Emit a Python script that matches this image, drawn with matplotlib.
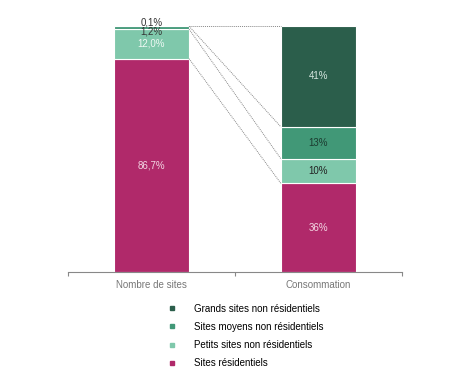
import matplotlib.pyplot as plt
from matplotlib.lines import Line2D
import numpy as np

plt.rcParams['font.family'] = ['Liberation Sans', 'DejaVu Sans']

# data
categories = ['Nombre de sites', 'Consommation']
segments = ['Sites résidentiels', 'Petits sites non résidentiels',
            'Sites moyens non résidentiels', 'Grands sites non résidentiels']
nb_sites = [86.7, 12.0, 1.2, 0.1]
conso = [36, 10, 13, 41]
nb_labels = ['86,7%', '12,0%', '1,2%', '0,1%']
conso_labels = ['36%', '10%', '13%', '41%']
colors = ['#b0296a', '#7fc8ab', '#419877', '#2b5e4b']
lbl_colors_left = ['#f3d6e3', '#eef8f3', '#333333', '#333333']
lbl_colors_right = ['#f3d6e3', '#222222', '#1c3b30', '#d6e6df']

fig = plt.figure(figsize=(4.67, 3.77), dpi=100)
ax = fig.add_axes([0.1456, 0.2785, 0.7152, 0.6525])

width = 0.45
bottom_l = np.concatenate([[0], np.cumsum(nb_sites)[:-1]])
bottom_r = np.concatenate([[0], np.cumsum(conso)[:-1]])
for i in range(4):
    ax.bar(0, nb_sites[i], width, bottom=bottom_l[i], color=colors[i],
           edgecolor='white', linewidth=0.8)
    ax.bar(1, conso[i], width, bottom=bottom_r[i], color=colors[i],
           edgecolor='white', linewidth=0.8)

# labels
for i in range(2):
    ax.text(0, bottom_l[i] + nb_sites[i] / 2, nb_labels[i], ha='center', va='center',
            fontsize=7, color=lbl_colors_left[i])
ax.text(0, 97.8, nb_labels[2], ha='center', va='center', fontsize=7, color='#333333')
ax.text(0, 101.6, nb_labels[3], ha='center', va='center', fontsize=7, color='#333333')
for i in range(4):
    ax.text(1, bottom_r[i] + conso[i] / 2, conso_labels[i], ha='center', va='center',
            fontsize=7, color=lbl_colors_right[i])

# dotted connectors
top_l = np.cumsum(nb_sites)
top_r = np.cumsum(conso)
for yl, yr in zip(top_l, top_r):
    ax.plot([width / 2, 1 - width / 2], [yl, yr], color='#888888', lw=0.7,
            linestyle=(0, (1, 1)))

ax.set_xlim(-0.5, 1.5)
ax.set_ylim(0, 100)
for s in ['top', 'right', 'left']:
    ax.spines[s].set_visible(False)
ax.spines['bottom'].set_color('#888888')
ax.spines['bottom'].set_linewidth(0.8)
ax.set_yticks([])
ax.set_xticks([0, 1])
ax.set_xticklabels(categories, fontsize=7, color='#777777')
ax.tick_params(axis='x', length=0, pad=6)
ax.set_xticks([-0.5, 0.5, 1.5], minor=True)
ax.tick_params(axis='x', which='minor', length=3, color='#888888', width=0.8)

handles = [Line2D([], [], marker='s', linestyle='none', markersize=3.5,
                  color=colors[i]) for i in [3, 2, 1, 0]]
labels = [segments[i] for i in [3, 2, 1, 0]]
fig.legend(handles, labels, loc='upper left', bbox_to_anchor=(0.34, 0.205),
           frameon=False, fontsize=7, labelspacing=0.85, handletextpad=1.2,
           borderaxespad=0)

fig.savefig('out.png', dpi=100)
